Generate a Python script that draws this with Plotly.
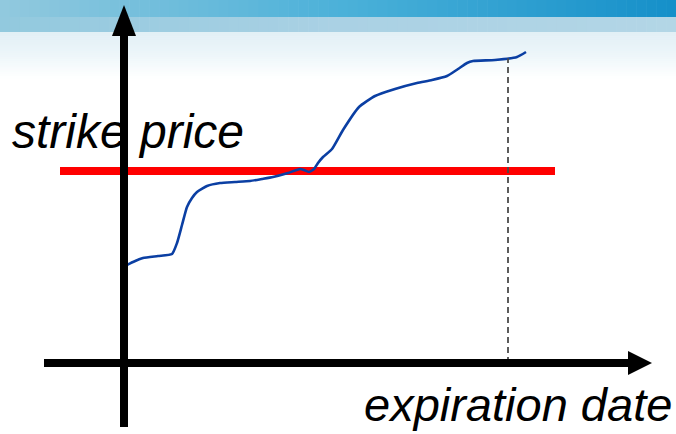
import numpy as np
import plotly.graph_objects as go

# Underlying price path over time (time measured from the origin of the axes)
time = [-1, 9, 19, 34, 48, 53, 58, 63, 68, 73, 83, 96, 111, 126, 138, 149, 164,
        176, 180, 185, 190, 194, 199, 208, 219, 235, 251, 271, 293, 308, 323,
        334, 343, 349, 371, 393, 402]
price = [96, 101, 105, 107, 109, 120, 138, 156, 165, 171, 177, 180, 181, 182,
         184, 186, 190, 194, 193, 191, 194, 200, 206, 214, 233, 256, 267, 274,
         280, 283, 287, 294, 300, 302, 303, 306, 311]

strike = 192             # strike price level
strike_span = [-64, 431]  # horizontal extent of the strike line
expiry = 384             # expiration date

x_label = "expiration date"
y_label = "strike price"

W, H = 676, 434
X0, Y0 = 124, 363  # pixel position of the axes origin
x_range = [-X0, W - X0]
y_range = [Y0 - H, Y0]

fig = go.Figure()

# strike line
fig.add_trace(go.Scatter(
    x=strike_span, y=[strike, strike], mode="lines",
    line=dict(color="#ff0000", width=8), hoverinfo="skip"))

# price path
fig.add_trace(go.Scatter(
    x=time, y=price, mode="lines",
    line=dict(color="#0b3fa3", width=2.6, shape="spline", smoothing=0.5),
    hoverinfo="skip"))

# dashed marker at expiration
price_at_expiry = float(np.interp(expiry, time, price))
fig.add_trace(go.Scatter(
    x=[expiry, expiry], y=[0, price_at_expiry], mode="lines",
    line=dict(color="#4a4a4a", width=1.8, dash="6px,4px"), hoverinfo="skip"))

shapes = []


def hexmix(c1, c2, f):
    a = [int(c1[i:i + 2], 16) for i in (1, 3, 5)]
    b = [int(c2[i:i + 2], 16) for i in (1, 3, 5)]
    m = [round(a[k] + (b[k] - a[k]) * f) for k in range(3)]
    return "#%02x%02x%02x" % tuple(m)


def grad3(stops, f):
    if f <= 0.5:
        return hexmix(stops[0], stops[1], f / 0.5)
    return hexmix(stops[1], stops[2], (f - 0.5) / 0.5)


# header band: horizontal gradients
n = 68
for i in range(n):
    xa, xb = i * W / n, (i + 1) * W / n + 0.6
    f = (i + 0.5) / n
    shapes.append(dict(type="rect", xref="paper", yref="paper", layer="below",
                       x0=xa / W, x1=xb / W, y0=1 - 17 / H, y1=1,
                       fillcolor=grad3(["#92c9de", "#4cb1d9", "#1590c9"], f),
                       line=dict(width=0)))
    shapes.append(dict(type="rect", xref="paper", yref="paper", layer="below",
                       x0=xa / W, x1=xb / W, y0=1 - 32 / H, y1=1 - 17 / H,
                       fillcolor=grad3(["#92c9de", "#aad1e4", "#b3d6e6"], f),
                       line=dict(width=0)))
# pale fade below the header
m = 22
top, bot = 32, 78
for j in range(m):
    ya = top + j * (bot - top) / m
    yb = top + (j + 1) * (bot - top) / m + 0.6
    f = (j + 0.5) / m
    shapes.append(dict(type="rect", xref="paper", yref="paper", layer="below",
                       x0=0, x1=1, y0=1 - yb / H, y1=1 - ya / H,
                       fillcolor=hexmix("#e2f0f6", "#ffffff", f ** 1.3),
                       line=dict(width=0)))

# axes with arrowheads
shapes += [
    dict(type="line", xref="x", yref="y", x0=0, x1=0, y0=Y0 - 427, y1=Y0 - 34,
         line=dict(color="black", width=8), layer="above"),
    dict(type="path", xref="x", yref="y",
         path="M -12 %d L 12 %d L 0 %d Z" % (Y0 - 36, Y0 - 36, Y0 - 5),
         fillcolor="black", line=dict(width=0), layer="above"),
    dict(type="line", xref="x", yref="y", x0=44 - X0, x1=630 - X0, y0=0, y1=0,
         line=dict(color="black", width=8), layer="above"),
    dict(type="path", xref="x", yref="y",
         path="M %d -12 L %d 12 L %d 0 Z" % (628 - X0, 628 - X0, 652 - X0),
         fillcolor="black", line=dict(width=0), layer="above"),
]

font_family = "Liberation Sans, Arial, sans-serif"
annotations = [
    dict(x=10 - X0, y=Y0 - 131, xref="x", yref="y", text="<i>%s</i>" % y_label,
         showarrow=False, xanchor="left", yanchor="middle",
         font=dict(family=font_family, size=48, color="black")),
    dict(x=362 - X0, y=Y0 - 404, xref="x", yref="y", text="<i>%s</i>" % x_label,
         showarrow=False, xanchor="left", yanchor="middle",
         font=dict(family=font_family, size=47, color="black")),
]

fig.update_layout(
    width=W, height=H, margin=dict(l=0, r=0, t=0, b=0),
    paper_bgcolor="white", plot_bgcolor="rgba(0,0,0,0)",
    showlegend=False, shapes=shapes, annotations=annotations,
    xaxis=dict(range=x_range, visible=False, fixedrange=True),
    yaxis=dict(range=y_range, visible=False, fixedrange=True),
)

fig.write_html("out.html")
